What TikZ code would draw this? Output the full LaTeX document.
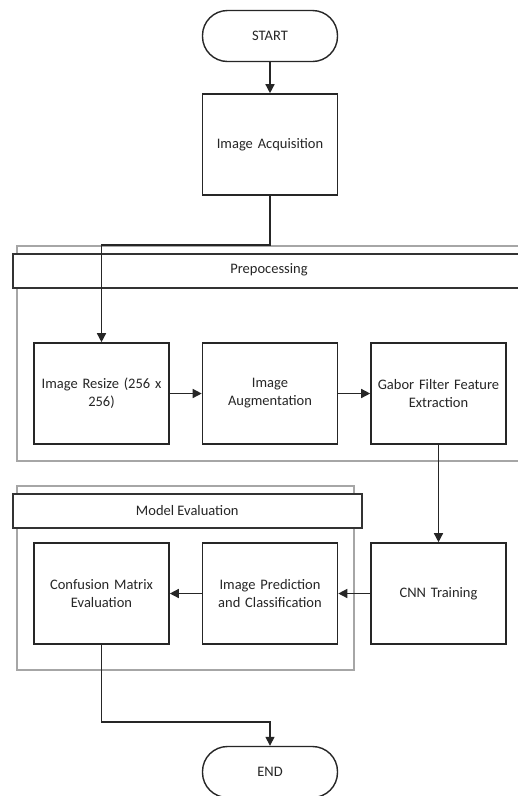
\documentclass[tikz,border=0pt]{standalone}
\usepackage{fontspec}
\setmainfont{Carlito}
\usetikzlibrary{arrows.meta}
\begin{document}
\begin{tikzpicture}[x=1pt,y=-1pt,
  box/.style={draw=black!85,line width=1.6pt,fill=white,minimum width=135pt,minimum height=101pt,align=center,text width=130pt,inner sep=0pt,font=\fontsize{14.5}{18}\selectfont,text=black!85},
  term/.style={draw=black!85,line width=1.4pt,fill=white,rounded corners=25pt,minimum width=135pt,minimum height=51pt,font=\fontsize{14.5}{17}\selectfont,text=black!85},
  grp/.style={draw=black!35,line width=1.2pt},
  hdr/.style={draw=black!80,line width=1.6pt,fill=white,font=\fontsize{14.5}{17}\selectfont,text=black!85},
  arr/.style={draw=black!85,line width=1.4pt,-{Triangle[length=9pt,width=9pt]}}]
\useasboundingbox (0,0) rectangle (518,796);
\clip (0,0) rectangle (518,796);
\fill[white] (0,0) rectangle (518,796);
% groups
\draw[grp] (17,246) rectangle (530,461);
\node[hdr,minimum width=518pt,minimum height=34pt,inner sep=0pt,anchor=north west] (hp) at (12,253) {};
\node[font=\fontsize{14.5}{17}\selectfont,text=black!85] (hpt) at (269,270) {Prepocessing};
\draw[grp] (17,486) rectangle (354,670);
\node[hdr,minimum width=349pt,minimum height=34pt,inner sep=0pt,anchor=north west] (hm) at (12,493) {Model Evaluation};
% nodes
\node[term] (start) at (270,36) {START};
\node[box] (acq) at (270,144.5) {Image Acquisition};
\node[box] (res) at (101.5,393.5) {Image Resize (256 x\\256)};
\node[box] (aug) at (270,393.5) {Image\\Augmentation};
\node[box] (gab) at (438.5,393.5) {Gabor Filter Feature\\Extraction};
\node[box] (cnn) at (438.5,593.5) {CNN Training};
\node[box] (pred) at (270,593.5) {Image Prediction\\and Classification};
\node[box] (conf) at (101.5,593.5) {Confusion Matrix\\Evaluation};
\node[term] (end) at (270,772) {END};
\coordinate (c1) at (270,245);
\coordinate (c2) at (101.5,245);
\coordinate (c3) at (101.5,722);
\coordinate (c4) at (270,722);
% connectors
\draw[arr] (start) -- (acq);
\draw[arr] (acq.south) -- (c1) -- (c2) -- (res.north);
\draw[arr] (res) -- (aug);
\draw[arr] (aug) -- (gab);
\draw[arr] (gab) -- (cnn);
\draw[arr] (cnn) -- (pred);
\draw[arr] (pred) -- (conf);
\draw[arr] (conf.south) -- (c3) -- (c4) -- (end.north);
\end{tikzpicture}
\end{document}
